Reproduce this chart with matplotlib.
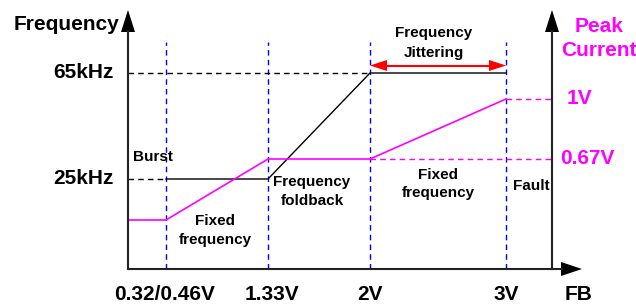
import matplotlib
matplotlib.use("Agg")
import matplotlib.pyplot as plt

# ---- data (schematic diagram units: origin at the axes corner) ----
fb_labels = ['0.32/0.46V', '1.33V', '2V', '3V']
fb_pos = [38, 140, 242, 378]          # breakpoints on FB axis
fb_label_x = [37, 144, 242, 378]
x_end = 424                            # right (Peak Current) axis position

freq_labels = ['25kHz', '65kHz']
freq_pos = [90, 196]

ipk_labels = ['0.67V', '1V']
ipk_pos = [110, 170]
ipk_min = 49

# frequency curve (solid part)
freq_x = [38, 140, 242, 378]
freq_y = [90, 90, 196, 196]
# peak current curve
ipk_x = [0, 38, 140, 242, 378]
ipk_y = [ipk_min, ipk_min, 110, 110, 170]

MAG = '#FF00FF'
BLUE = '#0000FF'
FONT = 'Liberation Sans'

fig = plt.figure(figsize=(6.36, 3.04), dpi=100)
ax = fig.add_axes([0, 0, 1, 1])
ax.set_xlim(-128, 636 - 128)
ax.set_ylim(269 - 304, 269)
ax.axis('off')

# blue dashed region boundaries
for x in fb_pos:
    ax.plot([x, x], [0, 227], color=BLUE, lw=1.0, ls=(0, (4, 3)))

# frequency reference dashed lines
ax.plot([0, fb_pos[0]], [freq_pos[0]] * 2, color='black', lw=1.0, ls=(0, (4, 3)))
ax.plot([0, fb_pos[2]], [freq_pos[1]] * 2, color='black', lw=1.0, ls=(0, (4, 3)))
ax.plot(freq_x, freq_y, color='black', lw=1.0)

# peak current reference dashed lines
ax.plot([fb_pos[2], x_end], [ipk_pos[0]] * 2, color=MAG, lw=1.0, ls=(0, (4, 3)))
ax.plot([fb_pos[3], x_end], [ipk_pos[1]] * 2, color=MAG, lw=1.0, ls=(0, (4, 3)))
ax.plot(ipk_x, ipk_y, color=MAG, lw=1.2)

# axes lines with arrowheads
ax.plot([0, 0], [0, 238], color='#222222', lw=1.5)
ax.fill([-7, 7, 0], [237, 237, 259], color='black', lw=0)
ax.plot([0, 434], [0, 0], color='#222222', lw=1.5)
ax.fill([433, 433, 454], [-7, 7, 0], color='black', lw=0)
ax.plot([x_end, x_end], [0, 238], color='#222222', lw=1.5)
ax.fill([x_end - 7, x_end + 7, x_end], [237, 237, 259], color='black', lw=0)

# red double arrow (frequency jittering)
ya = 203.5
ax.plot([fb_pos[2] + 10, fb_pos[3] - 10], [ya, ya], color='red', lw=1.5)
ax.fill([fb_pos[2], fb_pos[2] + 17, fb_pos[2] + 17], [ya, ya + 5.5, ya - 5.5], color='red', lw=0)
ax.fill([fb_pos[3], fb_pos[3] - 17, fb_pos[3] - 17], [ya, ya + 5.5, ya - 5.5], color='red', lw=0)

big = dict(fontsize=15, fontweight='bold', family=FONT)
small = dict(fontsize=11, fontweight='bold', family=FONT)

ax.text(-9, 244, 'Frequency', ha='right', va='center', **big)
for lab, y in zip(freq_labels, freq_pos):
    ax.text(-14, y, lab, ha='right', va='center', **big)

ax.text(471, 242, 'Peak', ha='center', va='center', color=MAG, **big)
ax.text(471, 219, 'Current', ha='center', va='center', color=MAG, **big)
ax.text(439, ipk_pos[1], ipk_labels[1], ha='left', va='center', color=MAG, **big)
ax.text(432, ipk_pos[0], ipk_labels[0], ha='left', va='center', color=MAG, **big)

for lab, x in zip(fb_labels, fb_label_x):
    ax.text(x, -31, lab, ha='center', va='baseline', **big)
ax.text(451, -31, 'FB', ha='center', va='baseline', **big)

ax.text(5, 112, 'Burst', ha='left', va='center', **small)
ax.text(87, 48, 'Fixed', ha='center', va='center', **small)
ax.text(87, 29, 'frequency', ha='center', va='center', **small)
ax.text(184, 87, 'Frequency', ha='center', va='center', **small)
ax.text(184, 68, 'foldback', ha='center', va='center', **small)
ax.text(310, 94, 'Fixed', ha='center', va='center', **small)
ax.text(310, 76, 'frequency', ha='center', va='center', **small)
ax.text(385, 83, 'Fault', ha='left', va='center', **small)
ax.text(306, 236, 'Frequency', ha='center', va='center', **small)
ax.text(306, 216, 'Jittering', ha='center', va='center', **small)

fig.savefig('out.png', dpi=100)
